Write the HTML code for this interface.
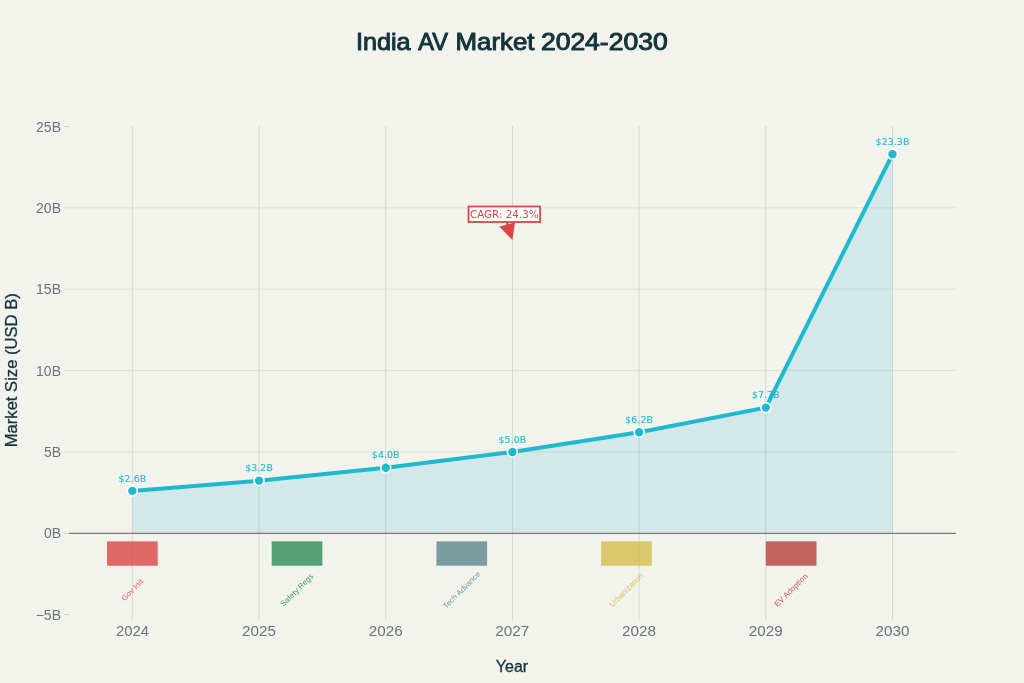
<!DOCTYPE html>
<html lang="en"><head><meta charset="utf-8"><title>India AV Market 2024-2030</title>
<style>html,body{margin:0;padding:0;background:#F3F3EE;}body{width:1024px;height:683px;overflow:hidden;}svg{display:block;}</style></head>
<body>
<svg width="1024" height="683" viewBox="0 0 1024 683">
<rect width="1024" height="683" fill="#F3F3EE"/>
<line x1="132.36" x2="132.36" y1="126.0" y2="619.5" stroke="#d6d4d0" stroke-width="0.9"/>
<line x1="259.05" x2="259.05" y1="126.0" y2="619.5" stroke="#d6d4d0" stroke-width="0.9"/>
<line x1="385.74" x2="385.74" y1="126.0" y2="619.5" stroke="#d6d4d0" stroke-width="0.9"/>
<line x1="512.43" x2="512.43" y1="126.0" y2="619.5" stroke="#d6d4d0" stroke-width="0.9"/>
<line x1="639.12" x2="639.12" y1="126.0" y2="619.5" stroke="#d6d4d0" stroke-width="0.9"/>
<line x1="765.81" x2="765.81" y1="126.0" y2="619.5" stroke="#d6d4d0" stroke-width="0.9"/>
<line x1="892.50" x2="892.50" y1="126.0" y2="619.5" stroke="#d6d4d0" stroke-width="0.9"/>
<line x1="64.0" x2="956.0" y1="207.84" y2="207.84" stroke="#d9d8d3" stroke-width="0.7"/>
<line x1="64.0" x2="956.0" y1="289.18" y2="289.18" stroke="#d9d8d3" stroke-width="0.7"/>
<line x1="64.0" x2="956.0" y1="370.52" y2="370.52" stroke="#d9d8d3" stroke-width="0.7"/>
<line x1="64.0" x2="956.0" y1="451.86" y2="451.86" stroke="#d9d8d3" stroke-width="0.7"/>
<line x1="64.0" x2="69.0" y1="614.54" y2="614.54" stroke="#d4d4cf" stroke-width="1"/>
<line x1="64.0" x2="69.0" y1="126.50" y2="126.50" stroke="#d4d4cf" stroke-width="1"/>
<polygon points="132.36,533.20 132.36,490.90 259.05,480.65 385.74,467.80 512.43,452.02 639.12,432.18 765.81,407.61 892.50,154.16 892.50,533.20" fill="#1FB8CD" fill-opacity="0.15"/>
<line x1="64.0" x2="69.0" y1="533.20" y2="533.20" stroke="#d4d4cf" stroke-width="1"/>
<line x1="69.0" x2="956.0" y1="533.30" y2="533.30" stroke="#787876" stroke-width="1.35"/>
<rect x="107.02" y="541.33" width="50.68" height="24.40" fill="#DB4545" fill-opacity="0.8"/>
<text x="132.36" y="590.14" transform="rotate(-45 132.36 590.14)" text-anchor="middle" dominant-baseline="central" font-family="'Liberation Sans', sans-serif" font-size="7.9" fill="#DB4545" fill-opacity="0.85">Gov Init</text>
<rect x="271.72" y="541.33" width="50.68" height="24.40" fill="#2E8B57" fill-opacity="0.8"/>
<text x="297.06" y="590.14" transform="rotate(-45 297.06 590.14)" text-anchor="middle" dominant-baseline="central" font-family="'Liberation Sans', sans-serif" font-size="7.9" fill="#2E8B57" fill-opacity="0.85">Safety Regs</text>
<rect x="436.42" y="541.33" width="50.68" height="24.40" fill="#5D878F" fill-opacity="0.8"/>
<text x="461.75" y="590.14" transform="rotate(-45 461.75 590.14)" text-anchor="middle" dominant-baseline="central" font-family="'Liberation Sans', sans-serif" font-size="7.9" fill="#5D878F" fill-opacity="0.85">Tech Advance</text>
<rect x="601.11" y="541.33" width="50.68" height="24.40" fill="#D2BA4C" fill-opacity="0.8"/>
<text x="626.45" y="590.14" transform="rotate(-45 626.45 590.14)" text-anchor="middle" dominant-baseline="central" font-family="'Liberation Sans', sans-serif" font-size="7.9" fill="#D2BA4C" fill-opacity="0.85">Urbanization</text>
<rect x="765.81" y="541.33" width="50.68" height="24.40" fill="#B4413C" fill-opacity="0.8"/>
<text x="791.15" y="590.14" transform="rotate(-45 791.15 590.14)" text-anchor="middle" dominant-baseline="central" font-family="'Liberation Sans', sans-serif" font-size="7.9" fill="#B4413C" fill-opacity="0.85">EV Adoption</text>
<polyline points="132.36,490.90 259.05,480.65 385.74,467.80 512.43,452.02 639.12,432.18 765.81,407.61 892.50,154.16" fill="none" stroke="#1FB8CD" stroke-width="4" stroke-linejoin="round" stroke-linecap="round"/>
<circle cx="132.36" cy="490.90" r="5" fill="#1FB8CD" stroke="#ffffff" stroke-width="1.6"/>
<circle cx="259.05" cy="480.65" r="5" fill="#1FB8CD" stroke="#ffffff" stroke-width="1.6"/>
<circle cx="385.74" cy="467.80" r="5" fill="#1FB8CD" stroke="#ffffff" stroke-width="1.6"/>
<circle cx="512.43" cy="452.02" r="5" fill="#1FB8CD" stroke="#ffffff" stroke-width="1.6"/>
<circle cx="639.12" cy="432.18" r="5" fill="#1FB8CD" stroke="#ffffff" stroke-width="1.6"/>
<circle cx="765.81" cy="407.61" r="5" fill="#1FB8CD" stroke="#ffffff" stroke-width="1.6"/>
<circle cx="892.50" cy="154.16" r="5" fill="#1FB8CD" stroke="#ffffff" stroke-width="1.6"/>
<text x="132.36" y="481.50" text-anchor="middle" font-family="'DejaVu Sans', sans-serif" font-size="9.4" letter-spacing="0.1" fill="#1FB8CD" stroke="#1FB8CD" stroke-width="0.1">$2.6B</text>
<text x="259.05" y="471.25" text-anchor="middle" font-family="'DejaVu Sans', sans-serif" font-size="9.4" letter-spacing="0.1" fill="#1FB8CD" stroke="#1FB8CD" stroke-width="0.1">$3.2B</text>
<text x="385.74" y="458.40" text-anchor="middle" font-family="'DejaVu Sans', sans-serif" font-size="9.4" letter-spacing="0.1" fill="#1FB8CD" stroke="#1FB8CD" stroke-width="0.1">$4.0B</text>
<text x="512.43" y="442.62" text-anchor="middle" font-family="'DejaVu Sans', sans-serif" font-size="9.4" letter-spacing="0.1" fill="#1FB8CD" stroke="#1FB8CD" stroke-width="0.1">$5.0B</text>
<text x="639.12" y="422.78" text-anchor="middle" font-family="'DejaVu Sans', sans-serif" font-size="9.4" letter-spacing="0.1" fill="#1FB8CD" stroke="#1FB8CD" stroke-width="0.1">$6.2B</text>
<text x="765.81" y="398.21" text-anchor="middle" font-family="'DejaVu Sans', sans-serif" font-size="9.4" letter-spacing="0.1" fill="#1FB8CD" stroke="#1FB8CD" stroke-width="0.1">$7.7B</text>
<text x="892.50" y="144.76" text-anchor="middle" font-family="'DejaVu Sans', sans-serif" font-size="9.4" letter-spacing="0.1" fill="#1FB8CD" stroke="#1FB8CD" stroke-width="0.1">$23.3B</text>
<polygon points="499.2,226.6 515.0,222.3 512.4,240.0" fill="#DB4545"/>
<line x1="504.3" y1="214.2" x2="510" y2="232" stroke="#DB4545" stroke-width="2"/>
<rect x="468.5" y="206.5" width="71.6" height="15.5" fill="#ffffff" stroke="#DB4545" stroke-width="1.8"/>
<text x="504.3" y="217.9" text-anchor="middle" font-family="'DejaVu Sans', sans-serif" font-size="10.35" fill="#DB4545">CAGR: 24.3%</text>
<text x="61" y="131.60" text-anchor="end" font-family="'Liberation Sans', sans-serif" font-size="14" fill="#687579">25B</text>
<text x="61" y="212.94" text-anchor="end" font-family="'Liberation Sans', sans-serif" font-size="14" fill="#687579">20B</text>
<text x="61" y="294.28" text-anchor="end" font-family="'Liberation Sans', sans-serif" font-size="14" fill="#687579">15B</text>
<text x="61" y="375.62" text-anchor="end" font-family="'Liberation Sans', sans-serif" font-size="14" fill="#687579">10B</text>
<text x="61" y="456.96" text-anchor="end" font-family="'Liberation Sans', sans-serif" font-size="14" fill="#687579">5B</text>
<text x="61" y="538.30" text-anchor="end" font-family="'Liberation Sans', sans-serif" font-size="14" fill="#687579">0B</text>
<text x="61" y="619.64" text-anchor="end" font-family="'Liberation Sans', sans-serif" font-size="14" fill="#687579">−5B</text>
<text x="116.00" y="635.9" textLength="32.97" lengthAdjust="spacingAndGlyphs" font-family="'Liberation Sans', sans-serif" font-size="14" font-weight="normal" fill="#687579">2024</text>
<text x="242.00" y="635.9" textLength="33.97" lengthAdjust="spacingAndGlyphs" font-family="'Liberation Sans', sans-serif" font-size="14" font-weight="normal" fill="#687579">2025</text>
<text x="368.69" y="635.9" textLength="33.97" lengthAdjust="spacingAndGlyphs" font-family="'Liberation Sans', sans-serif" font-size="14" font-weight="normal" fill="#687579">2026</text>
<text x="495.38" y="635.9" textLength="33.97" lengthAdjust="spacingAndGlyphs" font-family="'Liberation Sans', sans-serif" font-size="14" font-weight="normal" fill="#687579">2027</text>
<text x="622.07" y="635.9" textLength="33.97" lengthAdjust="spacingAndGlyphs" font-family="'Liberation Sans', sans-serif" font-size="14" font-weight="normal" fill="#687579">2028</text>
<text x="748.76" y="635.9" textLength="33.97" lengthAdjust="spacingAndGlyphs" font-family="'Liberation Sans', sans-serif" font-size="14" font-weight="normal" fill="#687579">2029</text>
<text x="875.45" y="635.9" textLength="33.97" lengthAdjust="spacingAndGlyphs" font-family="'Liberation Sans', sans-serif" font-size="14" font-weight="normal" fill="#687579">2030</text>
<text x="355.94" y="50.2" textLength="54.65" lengthAdjust="spacingAndGlyphs" font-family="'Liberation Sans', sans-serif" font-size="23.8" font-weight="normal" fill="#13343B" stroke="#13343B" stroke-width="1.0" stroke-linejoin="round">India</text>
<text x="418.19" y="50.2" textLength="29.79" lengthAdjust="spacingAndGlyphs" font-family="'Liberation Sans', sans-serif" font-size="23.8" font-weight="normal" fill="#13343B" stroke="#13343B" stroke-width="1.0" stroke-linejoin="round">AV</text>
<text x="455.51" y="50.2" textLength="79.00" lengthAdjust="spacingAndGlyphs" font-family="'Liberation Sans', sans-serif" font-size="23.8" font-weight="normal" fill="#13343B" stroke="#13343B" stroke-width="1.0" stroke-linejoin="round">Market</text>
<text x="540.90" y="50.2" textLength="126.79" lengthAdjust="spacingAndGlyphs" font-family="'Liberation Sans', sans-serif" font-size="23.8" font-weight="normal" fill="#13343B" stroke="#13343B" stroke-width="1.0" stroke-linejoin="round">2024-2030</text>
<text x="512" y="671.9" text-anchor="middle" font-family="'Liberation Sans', sans-serif" font-size="16" fill="#13343B" stroke="#13343B" stroke-width="0.3">Year</text>
<text x="0" y="0" transform="translate(17.0 370.25) rotate(-90)" text-anchor="middle" font-family="'Liberation Sans', sans-serif" font-size="16.6" fill="#13343B" stroke="#13343B" stroke-width="0.3">Market Size (USD B)</text>
</svg>
</body></html>
